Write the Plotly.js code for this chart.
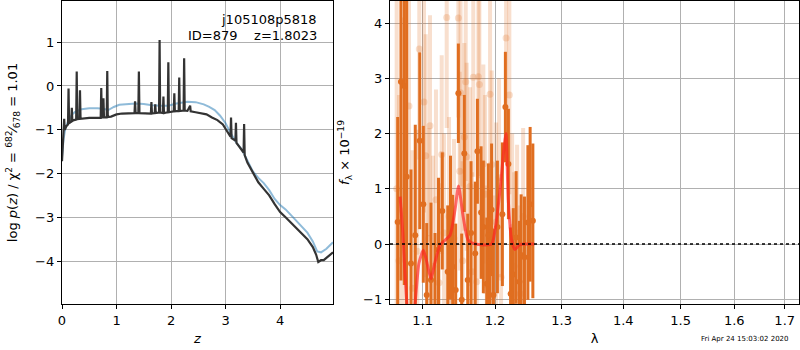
<!DOCTYPE html>
<html>
<head>
<meta charset="utf-8">
<script src="https://cdn.plot.ly/plotly-3.0.1.min.js"></script>
<style>html,body{margin:0;padding:0;background:#fff;}#plot{width:800px;height:350px;}</style>
</head>
<body>
<div id="plot"></div>
<script>
// ---- Left panel: redshift probability ----
const zGridBlack = [0.000,0.015,0.030,0.040,0.050,0.065,0.080,0.095,0.110,0.120,0.130,0.150,0.170,0.180,0.190,0.220,0.260,0.270,0.280,0.320,0.330,0.340,0.400,0.500,0.600,0.710,0.720,0.730,0.750,0.760,0.770,0.820,0.830,0.840,0.900,1.000,1.100,1.200,1.330,1.340,1.350,1.400,1.410,1.420,1.500,1.630,1.640,1.650,1.700,1.710,1.720,1.780,1.790,1.800,1.850,1.860,1.870,1.940,1.950,1.960,2.050,2.060,2.070,2.140,2.150,2.160,2.230,2.240,2.250,2.300,2.350,2.360,2.450,2.550,2.650,2.750,2.850,2.950,3.020,3.090,3.100,3.110,3.180,3.190,3.200,3.260,3.330,3.340,3.350,3.400,3.500,3.600,3.700,3.800,3.900,4.000,4.100,4.200,4.300,4.400,4.500,4.600,4.660,4.700,4.750,4.800,4.850,4.900,4.970];
const logPz = [-1.72,-1.25,-1.05,-0.75,-1.00,-0.95,-0.92,-0.90,-0.88,-0.06,-0.86,-0.83,-0.82,-0.50,-0.80,-0.78,-0.77,0.33,-0.76,-0.75,-0.10,-0.75,-0.74,-0.73,-0.73,-0.73,-0.05,-0.72,-0.72,-0.28,-0.72,-0.72,0.34,-0.71,-0.70,-0.65,-0.63,-0.62,-0.62,-0.35,-0.62,-0.62,0.33,-0.62,-0.63,-0.63,-0.37,-0.63,-0.62,-0.42,-0.62,-0.61,1.05,-0.61,-0.62,-0.24,-0.62,-0.60,0.54,-0.60,-0.58,-0.17,-0.58,-0.57,0.19,-0.57,-0.56,0.63,-0.56,-0.57,-0.45,-0.58,-0.60,-0.62,-0.65,-0.72,-0.78,-0.88,-1.02,-1.16,-0.72,-1.19,-1.25,-0.84,-1.30,-1.40,-1.52,-0.87,-1.58,-1.75,-1.98,-2.20,-2.35,-2.50,-2.70,-2.88,-3.00,-3.12,-3.25,-3.37,-3.50,-3.68,-3.85,-4.02,-3.98,-3.98,-3.93,-3.88,-3.80];
const zGridChi = [0.00,0.03,0.06,0.12,0.18,0.24,0.36,0.50,0.65,0.75,0.85,0.95,1.05,1.20,1.35,1.50,1.65,1.80,1.95,2.10,2.30,2.45,2.60,2.70,2.80,2.90,3.00,3.08,3.20,3.30,3.40,3.50,3.60,3.70,3.80,3.90,4.00,4.10,4.20,4.30,4.40,4.50,4.60,4.68,4.75,4.85,4.97];
const chiCurve = [-1.62,-1.20,-0.98,-0.78,-0.66,-0.59,-0.53,-0.51,-0.51,-0.52,-0.55,-0.48,-0.43,-0.41,-0.40,-0.41,-0.44,-0.45,-0.45,-0.40,-0.36,-0.37,-0.42,-0.48,-0.55,-0.68,-0.85,-1.05,-1.30,-1.45,-1.70,-1.95,-2.10,-2.22,-2.38,-2.58,-2.72,-2.82,-2.95,-3.08,-3.20,-3.35,-3.55,-3.78,-3.80,-3.72,-3.57];

// ---- Right panel: spectrum ----
const lamDark = [1.0674,1.0716,1.0759,1.0790,1.0846,1.0902,1.0961,1.1008,1.1053,1.1110,1.1164,1.1211,1.1262,1.1336,1.1374,1.1404,1.1445,1.1482,1.1528,1.1564,1.1612,1.1658,1.1717,1.1748,1.1800,1.1832,1.1881,1.1904,1.1928,1.1950,1.1976,1.2034,1.2106,1.2150,1.2194,1.2226,1.2266,1.2308,1.2357,1.2382,1.2432,1.2483,1.2517,1.2558];
const fluxDark = [0.40,2.94,2.86,1.22,-0.35,0.16,1.87,0.72,-0.92,-0.65,-1.30,-0.10,0.60,-0.50,0.30,-0.41,-0.83,2.73,-1.01,1.64,-0.65,0.20,-0.17,1.68,0.57,0.31,-0.72,0.16,-0.32,0.62,-0.92,0.31,0.54,2.48,1.45,-0.90,-0.55,0.12,-0.68,-0.20,-0.24,0.39,0.72,0.42];
const errDark = [1.9,3.6,3.6,3.4,1.7,2.0,1.6,1.42,1.3,1.4,1.5,1.3,1.06,1.2,1.3,1.3,1.2,0.9,1.2,1.06,1.2,1.3,1.3,0.95,1.2,1.2,1.2,1.3,1.3,1.2,1.2,1.2,1.3,1.0,1.0,1.2,1.2,1.2,1.1,1.1,1.1,1.4,1.4,1.4];

const lamLight = [1.0661,1.0690,1.0742,1.0820,1.0866,1.0929,1.0955,1.1017,1.1040,1.1080,1.1097,1.1137,1.1177,1.1218,1.1254,1.1286,1.1322,1.1354,1.1381,1.1422,1.1482,1.1501,1.1512,1.1540,1.1564,1.1584,1.1598,1.1644,1.1672,1.1690,1.1739,1.1761,1.1776,1.1832,1.1857,1.1881,1.1928,1.1952,1.1976,1.2015,1.2058,1.2087,1.2160,1.2208,1.2249,1.2278,1.2322,1.2367,1.2412];
const fluxLight = [1.00,-0.30,0.60,2.50,-0.80,-0.13,3.53,2.57,1.60,0.10,2.14,-0.40,0.80,-0.70,1.62,0.20,4.10,0.50,-0.90,0.10,4.09,1.32,2.74,-0.30,1.94,2.94,1.58,1.04,-0.50,3.02,-0.68,3.03,2.89,1.45,0.90,-0.74,2.71,1.44,-0.92,0.40,1.20,-0.60,3.73,2.70,0.30,-0.40,0.20,-0.90,0.50];
const errLight = [3.5,3.0,3.5,2.5,2.5,2.2,2.0,2.0,2.2,2.0,2.0,2.0,2.0,1.8,1.8,1.8,2.0,1.8,1.8,1.8,1.8,1.8,1.7,1.8,1.7,1.8,1.7,1.8,1.8,1.8,1.8,1.8,1.7,1.8,1.8,1.8,1.8,1.7,1.8,1.8,1.8,1.8,2.0,1.8,1.7,1.7,1.6,1.6,1.6];

const lamModel = [1.0705,1.0740,1.0775,1.0800,1.0850,1.0898,1.0950,1.1008,1.1050,1.1110,1.1160,1.1231,1.1299,1.1367,1.1436,1.1484,1.1548,1.1618,1.1717,1.1950,1.1999,1.2072,1.2134,1.2158,1.2192,1.2242,1.2290,1.2350,1.2420,1.2580];
const fluxModel = [0.86,0.20,-0.70,-1.20,-1.60,-1.10,-0.35,-0.11,-0.30,-0.63,-0.35,-0.02,0.07,0.16,0.62,1.05,0.50,0.07,0.00,0.00,0.25,0.98,1.80,2.00,0.80,0.07,-0.10,-0.02,0.00,0.00];

const xTicksR = [1.1,1.2,1.3,1.4,1.5,1.6,1.7];
const xTickTextR = ['1.1','1.2','1.3','1.4','1.5','1.6','1.7'];

const ORANGE = 'rgb(224,110,32)';
const ORANGE_LIGHT = 'rgba(224,110,32,0.22)';

const traces = [
  {x: zGridChi, y: chiCurve, type:'scatter', mode:'lines', line:{color:'rgba(31,119,180,0.5)', width:2}, xaxis:'x', yaxis:'y', hoverinfo:'skip'},
  {x: zGridBlack, y: logPz, type:'scatter', mode:'lines', line:{color:'#333333', width:2.2}, xaxis:'x', yaxis:'y', hoverinfo:'skip'},
  {x: lamLight, y: fluxLight, type:'scatter', mode:'markers', marker:{color:ORANGE_LIGHT, size:7}, error_y:{type:'data', array:errLight, visible:true, color:ORANGE_LIGHT, thickness:4, width:0}, xaxis:'x2', yaxis:'y2', hoverinfo:'skip'},
  {x: lamDark, y: fluxDark, type:'scatter', mode:'markers', marker:{color:ORANGE, size:6}, error_y:{type:'data', array:errDark, visible:true, color:ORANGE, thickness:3, width:0}, xaxis:'x2', yaxis:'y2', hoverinfo:'skip'},
  {x: lamModel, y: fluxModel, type:'scatter', mode:'lines', line:{color:'rgba(255,30,30,0.65)', width:3, shape:'spline', smoothing:0.6}, xaxis:'x2', yaxis:'y2', hoverinfo:'skip'}
];

const F = 'DejaVu Sans, sans-serif';
const axBase = {
  showgrid:true, gridcolor:'#b0b0b0', gridwidth:1,
  showline:true, mirror:true, linecolor:'#000', linewidth:1.2,
  ticks:'outside', ticklen:4, tickwidth:1, tickcolor:'#000',
  zeroline:false, tickfont:{family:F, size:13, color:'#000'}
};

const layout = {
  width:800, height:350,
  margin:{l:0, r:0, t:1, b:46},
  paper_bgcolor:'#fff', plot_bgcolor:'#fff',
  showlegend:false,
  font:{family:F, color:'#000'},
  xaxis: Object.assign({}, axBase, {domain:[62/800, 333/800], range:[0,4.97], tick0:0, dtick:1, anchor:'y',
    title:{text:'<i>z</i>', font:{family:F, size:13}, standoff:7}}),
  yaxis: Object.assign({}, axBase, {domain:[0,1], range:[-4.98,1.94], tick0:0, dtick:1, anchor:'x',
    title:{text:'log <i>p</i>(<i>z</i>) / χ<sup>2</sup> = <sup>682</sup>⁄<sub>678</sub> = 1.01', font:{family:F, size:13}, standoff:14}}),
  xaxis2: Object.assign({}, axBase, {domain:[390/800, 799/800], type:'log', range:[0.02431,0.23792], anchor:'y2',
    tickvals:xTicksR, ticktext:xTickTextR,
    title:{text:'λ', font:{family:F, size:13}, standoff:7}}),
  yaxis2: Object.assign({}, axBase, {domain:[0,1], range:[-1.085,4.40], tick0:0, dtick:1, anchor:'x2',
    title:{text:'<i>f</i><sub>λ</sub> × 10<sup>−19</sup>', font:{family:F, size:13}, standoff:10}}),
  shapes:[
    {type:'line', xref:'x2 domain', x0:0, x1:1, yref:'y2', y0:0, y1:0, line:{color:'#000', width:1.5, dash:'dot'}, layer:'above'}
  ],
  annotations:[
    {xref:'paper', yref:'paper', x:319/800, y:(304-20)/303, xanchor:'right', yanchor:'middle', showarrow:false,
     text:'j105108p5818', font:{family:F, size:13, color:'#000'}},
    {xref:'paper', yref:'paper', x:319/800, y:(304-35)/303, xanchor:'right', yanchor:'middle', showarrow:false,
     text:'ID=879\u00a0\u00a0\u00a0\u00a0z=1.8023', font:{family:F, size:13, color:'#000'}},
    {xref:'paper', yref:'paper', x:745/800, y:(304-339)/303, xanchor:'center', yanchor:'middle', showarrow:false,
     text:'Fri Apr 24 15:03:02 2020', font:{family:F, size:7, color:'#000'}}
  ]
};

Plotly.newPlot('plot', traces, layout, {staticPlot:true, displayModeBar:false});
</script>
</body>
</html>
